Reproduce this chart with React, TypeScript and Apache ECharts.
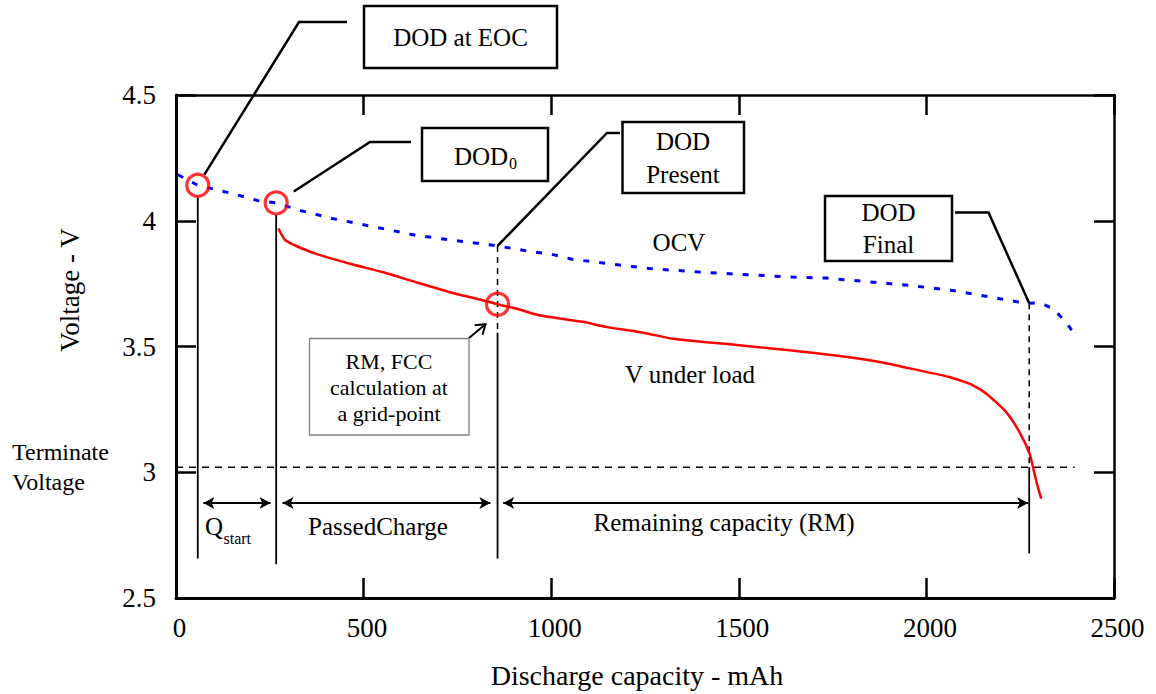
import React, { useEffect, useRef } from "react";
import * as echarts from "echarts";

// ---------- data ----------
const xTicks = [0, 500, 1000, 1500, 2000, 2500];
const yTicks = [2.5, 3, 3.5, 4, 4.5];

const ocvCapacity = [5, 58, 150, 221, 267, 328, 417, 550, 639, 772, 857, 950, 995, 1056, 1147, 1261, 1395, 1466, 1555, 1643, 1733, 1850, 1960, 2069, 2168, 2252, 2274, 2300, 2336, 2368, 2397];
const ocvVoltage = [4.183, 4.141, 4.108, 4.079, 4.071, 4.042, 4.009, 3.969, 3.942, 3.916, 3.9, 3.876, 3.869, 3.847, 3.83, 3.81, 3.796, 3.79, 3.783, 3.776, 3.772, 3.757, 3.742, 3.723, 3.697, 3.675, 3.672, 3.674, 3.652, 3.604, 3.545];

const loadCapacity = [273, 292, 372, 461, 550, 639, 728, 817, 857, 906, 968, 1084, 1146, 1252, 1323, 1501, 1635, 1768, 1875, 1981, 2061, 2088, 2115, 2159, 2212, 2248, 2275, 2288, 2297, 2306];
const loadVoltage = [3.969, 3.922, 3.869, 3.83, 3.796, 3.756, 3.717, 3.684, 3.668, 3.651, 3.624, 3.598, 3.578, 3.553, 3.531, 3.505, 3.485, 3.462, 3.438, 3.405, 3.379, 3.366, 3.352, 3.313, 3.24, 3.16, 3.074, 2.995, 2.941, 2.895];

const terminateVoltage = 3.02;
const terminateEnd = 2395;

// DOD points: EOC, DOD0, Present (on V under load)
const markerCapacity = [58, 267, 857];
const markerVoltage = [4.141, 4.071, 3.668];

const dodPresentOcv = [857, 3.9];
const dodFinalOcv = [2274, 3.672];

// vertical solid segments [capacity, fromV, toV]
const solidCapacity = [58, 267, 857, 2274];
const solidFrom = [4.093, 4.023, 3.555, 3.02];
const solidTo = [2.657, 2.634, 2.657, 2.677];
// vertical dashed segments
const dashedCapacity = [857, 2274];
const dashedFrom = [3.9, 3.672];
const dashedTo = [3.555, 3.02];

// double-headed arrows
const arrowVoltage = 2.878;
const arrowStart = [73, 284, 872];
const arrowEnd = [252, 838, 2271];

const FONT = "'Liberation Serif', 'Times New Roman', serif";

function buildOption(): any {
  const ocvData = ocvCapacity.map((c, i) => [c, ocvVoltage[i]]);
  const loadData = loadCapacity.map((c, i) => [c, loadVoltage[i]]);
  const series: any[] = [];
  series.push({
    type: "line",
    name: "OCV",
    data: ocvData,
    symbol: "none",
    lineStyle: { color: "#0000ff", width: 3, type: [6, 10] },
    z: 3,
  });
  series.push({
    type: "line",
    name: "V under load",
    data: loadData,
    symbol: "none",
    smooth: 0.2,
    lineStyle: { color: "#ff0000", width: 2.5 },
    z: 4,
  });
  series.push({
    type: "line",
    data: [
      [0, terminateVoltage],
      [terminateEnd, terminateVoltage],
    ],
    symbol: "none",
    lineStyle: { color: "#000", width: 1.5, type: [7, 6] },
    z: 2,
    markLine: {
      silent: true,
      symbol: ["arrow", "arrow"],
      symbolSize: [9, 11],
      label: { show: false },
      lineStyle: { color: "#000", width: 2, type: "solid" },
      data: arrowStart.map((s, i) => [
        { coord: [s, arrowVoltage] },
        { coord: [arrowEnd[i], arrowVoltage] },
      ]),
    },
  });
  solidCapacity.forEach((c, i) => {
    series.push({
      type: "line",
      data: [
        [c, solidFrom[i]],
        [c, solidTo[i]],
      ],
      symbol: "none",
      lineStyle: { color: "#000", width: 1.8 },
      z: 2,
    });
  });
  dashedCapacity.forEach((c, i) => {
    series.push({
      type: "line",
      data: [
        [c, dashedFrom[i]],
        [c, dashedTo[i]],
      ],
      symbol: "none",
      lineStyle: { color: "#000", width: 1.5, type: [6, 5] },
      z: 2,
    });
  });
  series.push({
    type: "scatter",
    data: markerCapacity.map((c, i) => [c, markerVoltage[i]]),
    symbol: "circle",
    symbolSize: 22,
    itemStyle: { color: "rgba(0,0,0,0)", borderColor: "#ff0000", borderWidth: 3.2 },
    z: 6,
  });

  const axisCommon = {
    type: "value",
    splitLine: { show: false },
    axisTick: { show: true, inside: true, length: 20, lineStyle: { color: "#000", width: 2.5 } },
  };
  return {
    animation: false,
    backgroundColor: "#fff",
    grid: { left: 176, right: 42, top: 95, bottom: 96 },
    xAxis: [
      {
        ...axisCommon,
        position: "bottom",
        min: xTicks[0],
        max: xTicks[xTicks.length - 1],
        interval: xTicks[1] - xTicks[0],
        axisLine: { show: true, onZero: false, lineStyle: { color: "#000", width: 3 } },
        axisLabel: {
          fontSize: 27,
          fontFamily: FONT,
          color: "#000",
          margin: 16,
          padding: [0, 0, 0, 7],
          formatter: (v: number) => String(v),
        },
      },
      {
        ...axisCommon,
        position: "top",
        min: xTicks[0],
        max: xTicks[xTicks.length - 1],
        interval: xTicks[1] - xTicks[0],
        axisLine: { show: true, onZero: false, lineStyle: { color: "#000", width: 2.5 } },
        axisLabel: { show: false },
      },
    ],
    yAxis: [
      {
        ...axisCommon,
        position: "left",
        min: yTicks[0],
        max: yTicks[yTicks.length - 1],
        interval: yTicks[1] - yTicks[0],
        axisLine: { show: true, onZero: false, lineStyle: { color: "#000", width: 3 } },
        axisLabel: {
          fontSize: 27,
          fontFamily: FONT,
          color: "#000",
          margin: 20,
          padding: [13, 0, 0, 0],
          formatter: (v: number) => String(v),
        },
      },
      {
        ...axisCommon,
        position: "right",
        min: yTicks[0],
        max: yTicks[yTicks.length - 1],
        interval: yTicks[1] - yTicks[0],
        axisLine: { show: true, onZero: false, lineStyle: { color: "#000", width: 2.5 } },
        axisLabel: { show: false },
      },
    ],
    series,
  };
}

function txt(x: number, y: number, text: string, fontSize: number, extra: any = {}): any {
  return {
    type: "text",
    x,
    y,
    z: 20,
    style: {
      text,
      fontSize,
      fontFamily: FONT,
      fill: "#000",
      align: "center",
      verticalAlign: "middle",
      ...extra,
    },
  };
}

function box(x1: number, y1: number, x2: number, y2: number, stroke = "#000", lw = 2.5): any {
  return {
    type: "rect",
    z: 15,
    shape: { x: x1, y: y1, width: x2 - x1, height: y2 - y1 },
    style: { fill: "#fff", stroke, lineWidth: lw },
  };
}

function poly(points: number[][], lw = 2.5): any {
  return {
    type: "polyline",
    z: 14,
    shape: { points },
    style: { stroke: "#000", lineWidth: lw, fill: "none" },
  };
}

export default function App() {
  const ref = useRef<HTMLDivElement>(null);
  useEffect(() => {
    const chart = echarts.init(ref.current!, null, { renderer: "svg" });
    chart.setOption(buildOption());
    const px = (x: number, y: number) =>
      chart.convertToPixel({ xAxisIndex: 0, yAxisIndex: 0 }, [x, y]) as number[];

    const eoc = px(markerCapacity[0], markerVoltage[0]);
    const d0 = px(markerCapacity[1], markerVoltage[1]);
    const pres = px(markerCapacity[2], markerVoltage[2]);
    const presOcv = px(dodPresentOcv[0], dodPresentOcv[1]);
    const finOcv = px(dodFinalOcv[0], dodFinalOcv[1]);

    const from = (c: number[], to: number[], r: number) => {
      const dx = to[0] - c[0];
      const dy = to[1] - c[1];
      const l = Math.hypot(dx, dy);
      return [c[0] + (dx / l) * r, c[1] + (dy / l) * r];
    };

    const eocElbow = [299, 22];
    const d0Elbow = [370, 142];

    // RM arrow
    const tip = [pres[0] - 12, pres[1] + 20];
    const tail = [469, 338];
    const ang = Math.atan2(tail[1] - tip[1], tail[0] - tip[0]);
    const head = (a: number) => [tip[0] + 11 * Math.cos(ang + a), tip[1] + 11 * Math.sin(ang + a)];

    const graphic: any[] = [
      // axis names
      txt(637, 675, "Discharge capacity - mAh", 28),
      { ...txt(0, 0, "Voltage - V", 27), x: 70, y: 290, rotation: Math.PI / 2 },
      txt(12, 451.7, "Terminate", 24, { align: "left" }),
      txt(12, 481.7, "Voltage", 24, { align: "left" }),
      // DOD at EOC
      box(364, 6, 557, 68),
      txt(460.5, 37, "DOD at EOC", 25),
      poly([from(eoc, eocElbow, 12.5), eocElbow, [347, 22]]),
      // DOD0
      box(422, 128, 548, 181),
      txt(454, 156.7, "DOD", 25, { align: "left" }),
      txt(509, 163.5, "0", 16, { align: "left" }),
      poly([from(d0, d0Elbow, 21), d0Elbow, [411, 142]]),
      // DOD Present
      box(622.5, 122, 744, 193),
      txt(683, 141, "DOD", 25),
      txt(683, 174, "Present", 25),
      poly([presOcv, [607, 133], [620, 133]]),
      // DOD Final
      box(825, 196, 952, 261),
      txt(888.5, 212.5, "DOD", 25),
      txt(888.5, 244.5, "Final", 25),
      poly([[955, 212.5], [988.5, 212.5], finOcv]),
      // RM, FCC box
      box(309.5, 338.5, 469, 435, "#7f7f7f", 1.3),
      txt(389, 361.7, "RM, FCC", 22),
      txt(389, 387.3, "calculation at", 22),
      txt(389, 413.3, "a grid-point", 22),
      poly([tail, tip], 2),
      poly([head(0.6), tip, head(-0.6)], 2),
      // curve labels
      txt(679, 242.7, "OCV", 25),
      txt(625, 374, "V under load", 25, { align: "left" }),
      // arrow labels
      txt(205, 526.7, "Q", 25, { align: "left" }),
      txt(223.5, 538, "start", 16, { align: "left" }),
      txt(378, 526, "PassedCharge", 25),
      txt(724, 522, "Remaining capacity (RM)", 25),
    ];
    chart.setOption({ graphic });
    return () => chart.dispose();
  }, []);
  return (
    <div
      ref={ref}
      style={{ position: "fixed", left: 0, top: 0, width: 1156, height: 694, background: "#fff" }}
    />
  );
}
